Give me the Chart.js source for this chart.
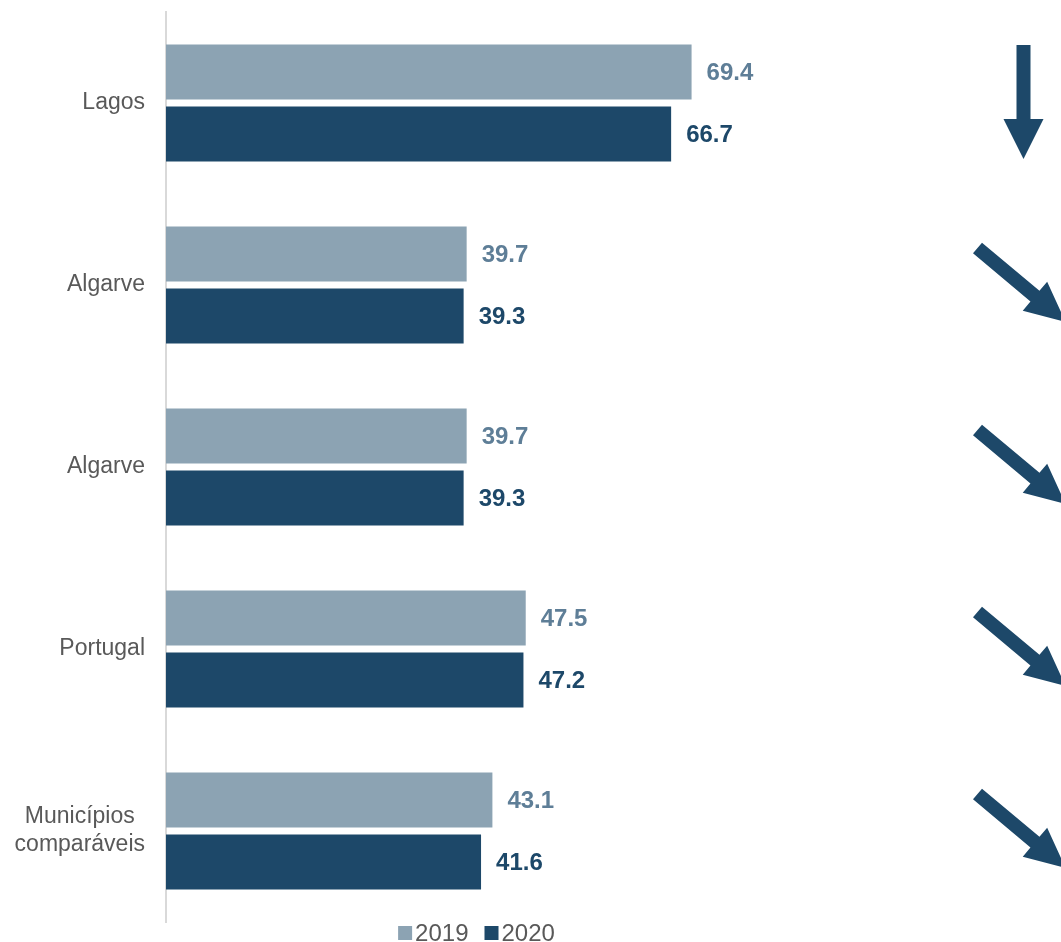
<!DOCTYPE html>
<html>
<head>
<meta charset="utf-8">
<script src="https://cdn.jsdelivr.net/npm/chart.js@4"></script>
<style>
  html, body { margin: 0; padding: 0; background: #fff; }
  #wrap { width: 1061px; height: 942px; position: relative; }
</style>
</head>
<body>
<div id="wrap"><canvas id="chart"></canvas></div>
<script>
// categorias e valores
const categories = ['Lagos', 'Algarve', 'Algarve', 'Portugal', ['Municípios', 'comparáveis']];
const values2019 = [69.4, 39.7, 39.7, 47.5, 43.1];
const values2020 = [66.7, 39.3, 39.3, 47.2, 41.6];
const seriesNames = ['2019', '2020'];
// seta por categoria: 'down' = vertical, 'diag' = diagonal
const arrowKinds = ['down', 'diag', 'diag', 'diag', 'diag'];

const color2019 = '#8ca3b3';
const color2020 = '#1d4869';
const label2019 = '#5e7e97';
const textGray = '#595959';
const fontFamily = '"Liberation Sans", Arial, sans-serif';

// rótulos das categorias (alinhados à direita, linhas centradas entre si como no Excel)
const categoryLabels = {
    id: 'categoryLabels',
    afterDraw(chart) {
        const ctx = chart.ctx;
        const yScale = chart.scales.y;
        const rightEdge = yScale.right - 21;
        const lineH = 28;
        ctx.save();
        ctx.font = '23px ' + fontFamily;
        ctx.fillStyle = textGray;
        ctx.textBaseline = 'middle';
        ctx.textAlign = 'center';
        chart.data.labels.forEach((lab, i) => {
            const lines = Array.isArray(lab) ? lab : [lab];
            const w = Math.max(...lines.map(l => ctx.measureText(l).width));
            const cx = rightEdge - w / 2;
            const cy = yScale.getPixelForValue(i);
            const top = cy - (lines.length - 1) * lineH / 2;
            lines.forEach((l, k) => ctx.fillText(l, cx, top + k * lineH));
        });
        ctx.restore();
    }
};

// rótulos de valor
const valueLabels = {
    id: 'valueLabels',
    afterDatasetsDraw(chart) {
        const ctx = chart.ctx;
        ctx.save();
        ctx.font = 'bold 24px ' + fontFamily;
        ctx.textBaseline = 'middle';
        ctx.textAlign = 'left';
        chart.data.datasets.forEach((ds, i) => {
            ctx.fillStyle = i === 0 ? label2019 : color2020;
            chart.getDatasetMeta(i).data.forEach((bar, j) => {
                ctx.fillText(ds.data[j].toFixed(1), bar.x + 15, bar.y + 1);
            });
        });
        ctx.restore();
    }
};

// setas à direita
const arrows = {
    id: 'arrows',
    afterDraw(chart) {
        const ctx = chart.ctx;
        const yScale = chart.scales.y;
        ctx.save();
        ctx.fillStyle = color2020;
        arrowKinds.forEach((kind, i) => {
            const cy = yScale.getPixelForValue(i);
            ctx.beginPath();
            if (kind === 'down') {
                const cx = 1023.5;
                ctx.moveTo(cx - 7, cy - 58);
                ctx.lineTo(cx + 7, cy - 58);
                ctx.lineTo(cx + 7, cy + 16);
                ctx.lineTo(cx + 20, cy + 16);
                ctx.lineTo(cx, cy + 56);
                ctx.lineTo(cx - 20, cy + 16);
                ctx.lineTo(cx - 7, cy + 16);
            } else {
                const x0 = 977.5, y0 = cy - 37;
                const ang = 40 * Math.PI / 180;
                const shaft = 75, head = 40;
                ctx.translate(x0, y0);
                ctx.rotate(ang);
                ctx.moveTo(0, -7);
                ctx.lineTo(shaft, -7);
                ctx.lineTo(shaft, -19);
                ctx.lineTo(shaft + head, 0);
                ctx.lineTo(shaft, 19);
                ctx.lineTo(shaft, 7);
                ctx.lineTo(0, 7);
                ctx.setTransform(1, 0, 0, 1, 0, 0);
            }
            ctx.closePath();
            ctx.fill();
        });
        ctx.restore();
    }
};

// legenda desenhada à mão, centrada na área do gráfico
const bottomLegend = {
    id: 'bottomLegend',
    afterDraw(chart) {
        const ctx = chart.ctx;
        const area = chart.chartArea;
        ctx.save();
        ctx.font = '24px ' + fontFamily;
        ctx.textBaseline = 'middle';
        const box = 14, gapBox = 3, gapItem = 16;
        const widths = seriesNames.map(n => box + gapBox + ctx.measureText(n).width);
        const total = widths.reduce((a, b) => a + b, 0) + gapItem;
        let x = (area.left + area.right) / 2 - total / 2;
        const y = 933;
        seriesNames.forEach((n, i) => {
            ctx.fillStyle = chart.data.datasets[i].backgroundColor;
            ctx.fillRect(x, y - box / 2, box, box);
            ctx.fillStyle = textGray;
            ctx.fillText(n, x + box + gapBox, y + 1);
            x += widths[i] + gapItem;
        });
        ctx.restore();
    }
};

const ctx = document.getElementById('chart').getContext('2d');
const chart = new Chart(ctx, {
    type: 'bar',
    data: {
        labels: categories,
        datasets: [
            { label: seriesNames[0], data: values2019, backgroundColor: color2019 },
            { label: seriesNames[1], data: values2020, backgroundColor: color2020 }
        ]
    },
    options: {
        indexAxis: 'y',
        responsive: true,
        maintainAspectRatio: false,
        animation: false,
        categoryPercentage: 0.68,
        barPercentage: 0.887,
        layout: { padding: { top: 12, bottom: 20, right: 274, left: 0 } },
        plugins: {
            legend: { display: false },
            tooltip: { enabled: false }
        },
        scales: {
            x: {
                min: 0,
                max: 82,
                display: false,
                grid: { display: false }
            },
            y: {
                grid: { display: false, drawTicks: false },
                border: { display: true, color: '#d9d9d9', width: 2 },
                ticks: { display: false },
                afterFit(scale) {
                    scale.width = 166;
                    scale.paddingTop = 0;
                    scale.paddingBottom = 0;
                }
            }
        }
    },
    plugins: [valueLabels, arrows, categoryLabels, bottomLegend]
});
</script>
</body>
</html>
